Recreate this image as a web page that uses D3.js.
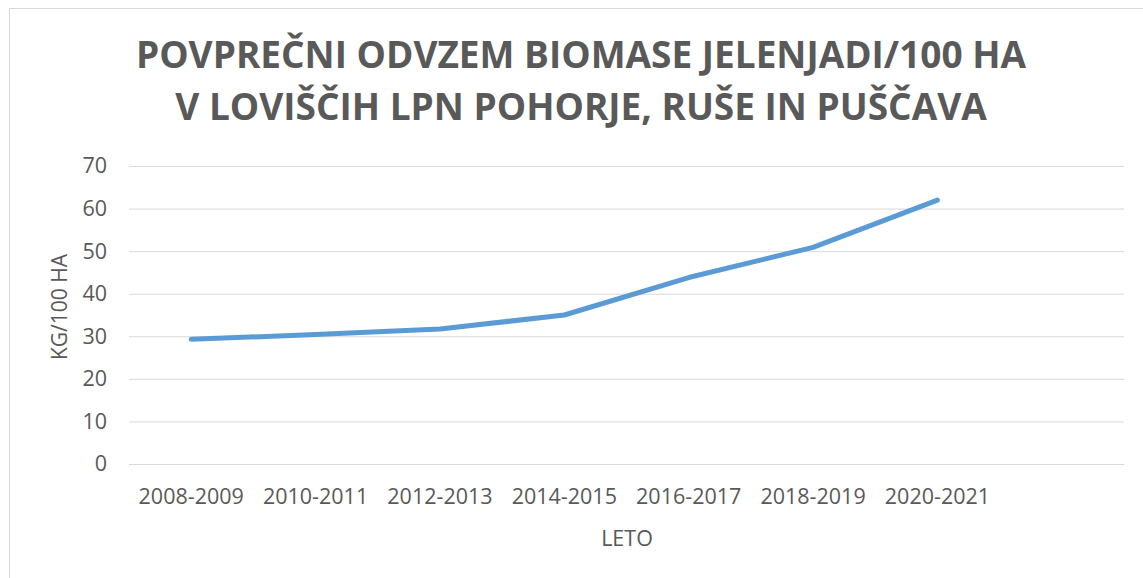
<!DOCTYPE html>
<html>
<head>
<meta charset="utf-8">
<script src="https://cdn.jsdelivr.net/npm/d3@7"></script>
<style>
  body { margin: 0; background: #fff; }
  svg { display: block; font-family: "Open Sans", sans-serif; }
</style>
</head>
<body>
<svg id="Chart" width="1143" height="578"></svg>
<script>
var seasons = ["2008-2009", "2010-2011", "2012-2013", "2014-2015", "2016-2017", "2018-2019", "2020-2021", ""];
var biomass = [29.3, 30.4, 31.7, 35.0, 43.8, 50.9, 62.0];
var yTicks = [0, 10, 20, 30, 40, 50, 60, 70];
var titleLines = ["POVPREČNI ODVZEM BIOMASE JELENJADI/100 HA", "V LOVIŠČIH LPN POHORJE, RUŠE IN PUŠČAVA"];

var textColor = "#595959";
var svg = d3.select("#Chart");

// outer chart border (only top and left show in the frame)
svg.append("rect")
	.attr("x", 9.5).attr("y", 8.5)
	.attr("width", 1200).attr("height", 700)
	.attr("fill", "none")
	.attr("stroke", "#d9d9d9");

var plot = { left: 129, right: 1124, top: 166, bottom: 464 };

var x = d3.scaleBand().domain(seasons).range([plot.left, plot.right]);
var y = d3.scaleLinear().domain([0, 70]).range([plot.bottom, plot.top]);

svg.append("g").selectAll("text").data(titleLines).join("text")
	.attr("x", 581)
	.attr("y", (d, i) => 68 + i * 52)
	.attr("text-anchor", "middle")
	.attr("fill", textColor)
	.attr("font-weight", "bold")
	.attr("font-size", 37)
	.text(d => d);

// gridlines
var yAxis = svg.append("g")
	.attr("transform", `translate(${plot.left},0)`)
	.call(d3.axisLeft(y).tickValues(yTicks).tickSize(-(plot.right - plot.left)).tickPadding(22));
yAxis.select(".domain").remove();
yAxis.selectAll(".tick line").attr("stroke", "#d9d9d9");
yAxis.selectAll(".tick text")
	.attr("fill", textColor)
	.attr("font-size", 21.5)
	.attr("font-family", "Open Sans");

var xAxis = svg.append("g")
	.attr("transform", `translate(0,${plot.bottom})`)
	.call(d3.axisBottom(x).tickSize(0).tickPadding(25));
xAxis.select(".domain").attr("stroke", "#d9d9d9");
xAxis.selectAll(".tick text")
	.attr("fill", textColor)
	.attr("font-size", 21.5)
	.attr("font-family", "Open Sans");

var line = d3.line()
	.x((d, i) => x(seasons[i]) + x.bandwidth() / 2)
	.y(d => y(d));

svg.append("path")
	.datum(biomass)
	.attr("d", line)
	.attr("fill", "none")
	.attr("stroke", "#5b9bd5")
	.attr("stroke-width", 5)
	.attr("stroke-linecap", "round")
	.attr("stroke-linejoin", "round");

svg.append("text")
	.attr("x", 627).attr("y", 546)
	.attr("text-anchor", "middle")
	.attr("fill", textColor)
	.attr("font-size", 21.5)
	.text("LETO");

svg.append("text")
	.attr("transform", "translate(67,307) rotate(-90)")
	.attr("text-anchor", "middle")
	.attr("fill", textColor)
	.attr("font-size", 21)
	.text("KG/100 HA");
</script>
</body>
</html>
